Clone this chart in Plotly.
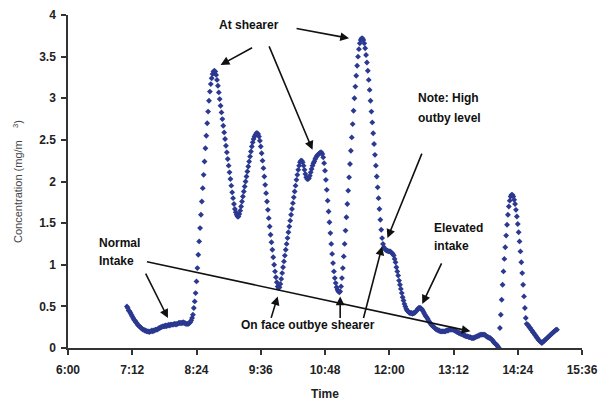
import pandas as pd
import plotly.graph_objects as go

# ---- data (1-minute readings starting 07:06) ----
start_time = "2000-01-01 07:06"
conc = [
    0.50, 0.48, 0.45, 0.44, 0.42, 0.40, 0.38, 0.36, 0.34, 0.33,
    0.31, 0.30, 0.28, 0.27, 0.26, 0.25, 0.24, 0.23, 0.22, 0.22,
    0.21, 0.21, 0.20, 0.20, 0.20, 0.19, 0.20, 0.20, 0.21, 0.20,
    0.21, 0.21, 0.22, 0.22, 0.22, 0.23, 0.24, 0.24, 0.25, 0.25,
    0.26, 0.26, 0.26, 0.27, 0.26, 0.27, 0.27, 0.28, 0.27, 0.28,
    0.28, 0.28, 0.28, 0.29, 0.29, 0.28, 0.29, 0.29, 0.30, 0.30,
    0.30, 0.30, 0.30, 0.31, 0.30, 0.30, 0.29, 0.29, 0.29, 0.29,
    0.30, 0.31, 0.33, 0.36, 0.40, 0.48, 0.56, 0.66, 0.80, 0.96,
    1.12, 1.28, 1.44, 1.60, 1.76, 1.92, 2.08, 2.24, 2.40, 2.55,
    2.70, 2.84, 2.97, 3.08, 3.17, 3.24, 3.29, 3.32, 3.33, 3.32,
    3.28, 3.22, 3.15, 3.07, 2.99, 2.91, 2.83, 2.75, 2.67, 2.59,
    2.51, 2.43, 2.35, 2.27, 2.19, 2.11, 2.03, 1.95, 1.87, 1.80,
    1.73, 1.67, 1.63, 1.60, 1.58, 1.58, 1.61, 1.65, 1.70, 1.76,
    1.82, 1.88, 1.94, 2.00, 2.06, 2.12, 2.18, 2.24, 2.30, 2.36,
    2.42, 2.47, 2.51, 2.54, 2.56, 2.58, 2.58, 2.57, 2.54, 2.49,
    2.42, 2.34, 2.25, 2.16, 2.06, 1.96, 1.86, 1.76, 1.66, 1.56,
    1.46, 1.36, 1.27, 1.18, 1.09, 1.00, 0.92, 0.85, 0.79, 0.74,
    0.72, 0.73, 0.77, 0.83, 0.90, 0.97, 1.04, 1.11, 1.18, 1.25,
    1.32, 1.39, 1.46, 1.53, 1.60, 1.67, 1.74, 1.81, 1.88, 1.95,
    2.02, 2.08, 2.14, 2.19, 2.23, 2.25, 2.25, 2.23, 2.19, 2.14,
    2.09, 2.05, 2.03, 2.03, 2.04, 2.07, 2.11, 2.15, 2.19, 2.22,
    2.24, 2.27, 2.29, 2.31, 2.32, 2.33, 2.34, 2.35, 2.35, 2.33,
    2.29, 2.22, 2.13, 2.02, 1.90, 1.77, 1.64, 1.51, 1.38, 1.25,
    1.13, 1.02, 0.92, 0.84, 0.78, 0.73, 0.70, 0.68, 0.67, 0.68,
    0.74, 0.84, 0.96, 1.10, 1.25, 1.41, 1.57, 1.73, 1.89, 2.05,
    2.21, 2.37, 2.53, 2.69, 2.85, 3.00, 3.14, 3.27, 3.39, 3.50,
    3.59, 3.66, 3.70, 3.72, 3.72, 3.70, 3.66, 3.60, 3.52, 3.43,
    3.33, 3.22, 3.10, 2.97, 2.84, 2.71, 2.58, 2.45, 2.32, 2.19,
    2.06, 1.93, 1.80, 1.67, 1.54, 1.42, 1.32, 1.25, 1.21, 1.19,
    1.18, 1.17, 1.17, 1.16, 1.16, 1.16, 1.15, 1.14, 1.13, 1.11,
    1.07, 1.03, 0.97, 0.92, 0.87, 0.81, 0.76, 0.71, 0.66, 0.61,
    0.57, 0.53, 0.50, 0.47, 0.45, 0.44, 0.43, 0.42, 0.42, 0.42,
    0.41, 0.42, 0.42, 0.43, 0.44, 0.45, 0.47, 0.48, 0.48, 0.48,
    0.47, 0.46, 0.44, 0.42, 0.40, 0.38, 0.37, 0.35, 0.33, 0.31,
    0.30, 0.28, 0.27, 0.26, 0.25, 0.24, 0.23, 0.22, 0.22, 0.21,
    0.21, 0.20, 0.20, 0.20, 0.20, 0.20, 0.20, 0.20, 0.21, 0.21,
    0.21, 0.22, 0.22, 0.22, 0.22, 0.22, 0.22, 0.21, 0.21, 0.20,
    0.19, 0.19, 0.18, 0.18, 0.17, 0.17, 0.16, 0.16, 0.15, 0.15,
    0.14, 0.14, 0.14, 0.13, 0.13, 0.13, 0.12, 0.12, 0.12, 0.12,
    0.13, 0.13, 0.14, 0.14, 0.15, 0.15, 0.16, 0.16, 0.16, 0.16,
    0.16, 0.16, 0.15, 0.14, 0.13, 0.13, 0.12, 0.12, 0.11, 0.10,
    0.09, 0.07, 0.06, 0.05, 0.04, 0.03, 0.01, 0.00, 0.24, 0.40,
    0.58, 0.76, 0.92, 1.07, 1.21, 1.35, 1.48, 1.60, 1.70, 1.77,
    1.82, 1.84, 1.84, 1.82, 1.78, 1.73, 1.66, 1.58, 1.49, 1.39,
    1.28, 1.16, 1.03, 0.90, 0.76, 0.62, 0.48, 0.36, 0.29, 0.28,
    0.27, 0.25, 0.24, 0.22, 0.21, 0.19, 0.18, 0.16, 0.15, 0.13,
    0.12, 0.10, 0.09, 0.08, 0.07, 0.06, 0.07, 0.08, 0.09, 0.10,
    0.11, 0.12, 0.13, 0.14, 0.15, 0.16, 0.17, 0.18, 0.19, 0.20,
    0.21, 0.22, 0.22,
]
times = pd.date_range(start_time, periods=len(conc), freq="1min")

x_start = "2000-01-01 06:00"
x_end = "2000-01-01 15:36"
tick_step_minutes = 72
y_max = 4

FONT = "Liberation Sans, Arial, sans-serif"
DOT = "#2B3990"


def T(hm):
    return f"2000-01-01 {hm}"


fig = go.Figure()
fig.add_trace(go.Scatter(
    x=times, y=conc, mode="markers",
    marker=dict(symbol="diamond", size=4.5, color=DOT, line=dict(width=0)),
    hoverinfo="skip", showlegend=False,
))

# text labels (each line separately to match line spacing)
texts = [
    ("At shearer", T("09:23"), 3.88, "center"),
    ("Note: High", T("12:30"), 3.00, "left"),
    ("outby level", T("12:30"), 2.76, "left"),
    ("Elevated", T("12:48"), 1.44, "left"),
    ("intake", T("12:48"), 1.23, "left"),
    ("Normal", T("06:33"), 1.26, "left"),
    ("Intake", T("06:33"), 1.04, "left"),
    ("On face outbye shearer", T("10:29"), 0.28, "center"),
]
for txt, x, y, anchor in texts:
    fig.add_annotation(
        x=x, y=y, text=txt, showarrow=False, xanchor=anchor, yanchor="middle",
        font=dict(family=FONT, size=12, color="#111", weight="bold"),
    )

# arrows: head in data coords, tail as pixel offset
arrows = [
    (T("08:51"), 3.40, 33, -18),
    (T("10:34"), 2.38, -44, -105),
    (T("11:15"), 3.72, -54, -10),
    (T("11:58"), 1.32, 35, -86),
    (T("12:37"), 0.53, 20, -42),
    (T("13:31"), 0.20, -325, -70),
    (T("07:52"), 0.36, -23, -46),
    (T("09:55"), 0.62, -7, 23),
    (T("11:05"), 0.62, 0, 23),
    (T("11:52"), 1.22, -19, 73),
]
for x, y, ax, ay in arrows:
    fig.add_annotation(
        x=x, y=y, ax=ax, ay=ay, text="", showarrow=True,
        arrowhead=2, arrowsize=1.1, arrowwidth=1.6, arrowcolor="#111", standoff=0,
    )

fig.update_layout(
    width=607, height=394,
    margin=dict(l=60, r=33, t=7, b=54),
    paper_bgcolor="white", plot_bgcolor="white",
    font=dict(family=FONT, color="#222"),
    xaxis=dict(
        type="date", range=[x_start, x_end],
        tick0=x_start, dtick=tick_step_minutes * 60 * 1000, tickformat="%-H:%M",
        showgrid=False, zeroline=False,
        showline=True, linecolor="#333", linewidth=1.5,
        ticks="outside", ticklen=5, tickwidth=1.5, tickcolor="#333",
        ticklabelstandoff=5,
        tickfont=dict(family=FONT, size=12, color="#222", weight="bold"),
        title=dict(text="Time", standoff=13,
                   font=dict(family=FONT, size=12, color="#222", weight="bold")),
        automargin=False,
    ),
    yaxis=dict(
        range=[0, y_max], dtick=0.5,
        showgrid=False, zeroline=False,
        showline=True, linecolor="#333", linewidth=1.5,
        ticks="outside", ticklen=5, tickwidth=1.5, tickcolor="#333",
        ticklabelstandoff=3,
        tickfont=dict(family=FONT, size=12, color="#222", weight="bold"),
        title=dict(text="Concentration (mg/m\u00a0\u00a0\u00a0\u00a0<sup>3</sup>)", standoff=14,
                   font=dict(family=FONT, size=11, color="#444")),
        automargin=False,
    ),
)

fig.write_html("out.html")
